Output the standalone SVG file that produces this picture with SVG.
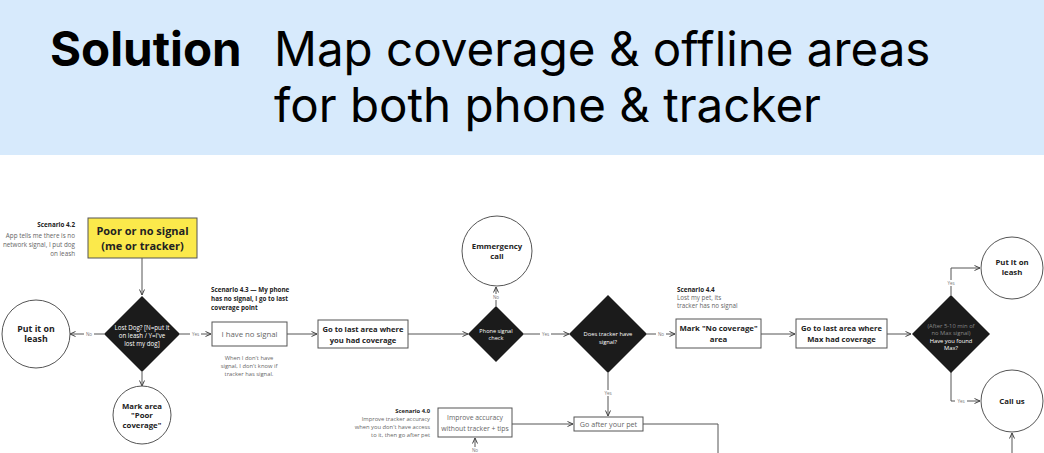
<svg xmlns="http://www.w3.org/2000/svg" width="1044" height="453" viewBox="0 0 1044 453">
<defs>
<style>
.hd{font-family:Inter,"Liberation Sans",sans-serif;fill:#000}
.t{font-family:"Open Sans","Liberation Sans",sans-serif}
.b{font-weight:700;fill:#222}
.g{fill:#666}
.w{fill:#fff}
.ln{fill:none;stroke:#555;stroke-width:1}
.box{fill:#fff;stroke:#555;stroke-width:1}
.dia{fill:#1b1b1b}
.lbl{font-family:"Open Sans","Liberation Sans",sans-serif;font-size:4.5px;fill:#777}
</style>
<marker id="ar" markerWidth="8" markerHeight="8" refX="6" refY="3" orient="auto" markerUnits="userSpaceOnUse">
<path d="M0.5,0.5 L6,3 L0.5,5.5" fill="none" stroke="#444" stroke-width="1"/>
</marker>
</defs>
<rect width="1044" height="453" fill="#fff"/>
<rect id="header" x="0" y="0" width="1044" height="155" fill="#d7eafc"/>
<text class="hd" x="50" y="66" font-size="47.5" font-weight="700">Solution</text>
<text class="hd" x="274" y="66" font-size="47.5">Map coverage &amp; offline areas</text>
<text class="hd" x="274" y="122" font-size="47.5">for both phone &amp; tracker</text>

<g id="connectors">
<line class="ln" x1="142" y1="258" x2="142" y2="295" marker-end="url(#ar)"/>
<line class="ln" x1="104" y1="334" x2="70" y2="334" marker-end="url(#ar)"/>
<line class="ln" x1="142" y1="372" x2="142" y2="386" marker-end="url(#ar)"/>
<line class="ln" x1="180" y1="334" x2="211" y2="334" marker-end="url(#ar)"/>
<line class="ln" x1="287" y1="334" x2="317" y2="334" marker-end="url(#ar)"/>
<line class="ln" x1="408" y1="334" x2="468" y2="334" marker-end="url(#ar)"/>
<line class="ln" x1="496" y1="306" x2="496" y2="287" marker-end="url(#ar)"/>
<line class="ln" x1="524" y1="334" x2="569" y2="334" marker-end="url(#ar)"/>
<line class="ln" x1="608" y1="373" x2="608" y2="416" marker-end="url(#ar)"/>
<line class="ln" x1="647" y1="334" x2="675" y2="334" marker-end="url(#ar)"/>
<line class="ln" x1="761" y1="334" x2="795" y2="334" marker-end="url(#ar)"/>
<line class="ln" x1="887" y1="334" x2="911" y2="334" marker-end="url(#ar)"/>
<polyline class="ln" points="951,295 951,268 980,268" marker-end="url(#ar)"/>
<polyline class="ln" points="951,372 951,401 980,401" marker-end="url(#ar)"/>
<line class="ln" x1="1012" y1="453" x2="1012" y2="433" marker-end="url(#ar)"/>
<line class="ln" x1="512" y1="424" x2="573" y2="424" marker-end="url(#ar)"/>
<polyline class="ln" points="643,424 718,424 718,453"/>
<line class="ln" x1="475" y1="453" x2="475" y2="438" marker-end="url(#ar)"/>
<rect x="84" y="331" width="10" height="6" fill="#fff"/><text class="lbl" x="89" y="335.5" text-anchor="middle">No</text>
<rect x="190" y="331" width="11" height="6" fill="#fff"/><text class="lbl" x="195.5" y="335.5" text-anchor="middle">Yes</text>
<rect x="491" y="294" width="10" height="6" fill="#fff"/><text class="lbl" x="496" y="298.5" text-anchor="middle">No</text>
<rect x="540" y="331" width="11" height="6" fill="#fff"/><text class="lbl" x="545.5" y="335.5" text-anchor="middle">Yes</text>
<rect x="602" y="390" width="12" height="6" fill="#fff"/><text class="lbl" x="608" y="394.5" text-anchor="middle">Yes</text>
<rect x="656" y="331" width="10" height="6" fill="#fff"/><text class="lbl" x="661" y="335.5" text-anchor="middle">No</text>
<rect x="945" y="280" width="12" height="6" fill="#fff"/><text class="lbl" x="951" y="284.5" text-anchor="middle">Yes</text>
<rect x="955" y="398" width="12" height="6" fill="#fff"/><text class="lbl" x="961" y="402.5" text-anchor="middle">Yes</text>
<rect x="470" y="447" width="10" height="6" fill="#fff"/><text class="lbl" x="475" y="451.5" text-anchor="middle">No</text>
</g>

<g id="note-4-2" class="t" font-size="6.3" text-anchor="end">
<text x="75" y="227" class="b">Scenario 4.2</text>
<text x="75" y="238" class="g">App tells me there is no</text>
<text x="75" y="247" class="g">network signal, I put dog</text>
<text x="75" y="256" class="g">on leash</text>
</g>

<g id="poor-signal">
<rect x="88" y="218" width="109" height="40" fill="#fbe94b" stroke="#555" stroke-width="1"/>
<text class="t b" x="142.5" y="235" font-size="11" text-anchor="middle">Poor or no signal</text>
<text class="t b" x="142.5" y="250" font-size="11" text-anchor="middle">(me or tracker)</text>
</g>

<g id="lost-dog">
<polygon class="dia" points="142,296 180,334 142,372 104,334"/>
<text class="t w" x="142" y="330" font-size="6.2" text-anchor="middle">Lost Dog? [N=put it</text>
<text class="t w" x="142" y="338" font-size="6.2" text-anchor="middle">on leash / Y=I've</text>
<text class="t w" x="142" y="346" font-size="6.2" text-anchor="middle">lost my dog]</text>
</g>

<g id="put-leash-1">
<circle cx="36" cy="334" r="34" fill="#fff" stroke="#555"/>
<text class="t b" x="36" y="332" font-size="8.8" text-anchor="middle">Put it on</text>
<text class="t b" x="36" y="342" font-size="8.8" text-anchor="middle">leash</text>
</g>

<g id="mark-poor">
<circle cx="142" cy="415" r="29" fill="#fff" stroke="#555"/>
<text class="t b" x="142" y="409" font-size="7.8" text-anchor="middle">Mark area</text>
<text class="t b" x="142" y="418" font-size="7.8" text-anchor="middle">"Poor</text>
<text class="t b" x="142" y="428" font-size="7.8" text-anchor="middle">coverage"</text>
</g>

<g id="note-4-3" class="t" font-size="6.3">
<text x="211" y="292" class="b">Scenario 4.3 — My phone</text>
<text x="211" y="301" class="b">has no signal, I go to last</text>
<text x="211" y="310" class="b">coverage point</text>
</g>

<g id="no-signal">
<rect class="box" x="212" y="322" width="75" height="24"/>
<text class="t g" x="249.5" y="337" font-size="7.8" text-anchor="middle">I have no signal</text>
<text class="t g" x="249" y="360" font-size="5.8" text-anchor="middle">When I don't have</text>
<text class="t g" x="249" y="368" font-size="5.8" text-anchor="middle">signal, I don't know if</text>
<text class="t g" x="249" y="376" font-size="5.8" text-anchor="middle">tracker has signal.</text>
</g>

<g id="go-last-area">
<rect class="box" x="318" y="320" width="90" height="28"/>
<text class="t b" x="363" y="331.5" font-size="7.6" text-anchor="middle">Go to last area where</text>
<text class="t b" x="363" y="342.5" font-size="7.6" text-anchor="middle">you had coverage</text>
</g>

<g id="phone-check">
<polygon class="dia" points="496,306 524,334 496,362 468,334"/>
<text class="t w" x="496" y="333" font-size="5.6" text-anchor="middle">Phone signal</text>
<text class="t w" x="496" y="340" font-size="5.6" text-anchor="middle">check</text>
</g>

<g id="emergency">
<circle cx="497" cy="251" r="35" fill="#fff" stroke="#555"/>
<text class="t b" x="497" y="249" font-size="7.8" text-anchor="middle">Emmergency</text>
<text class="t b" x="497" y="259" font-size="7.8" text-anchor="middle">call</text>
</g>

<g id="tracker-signal">
<polygon class="dia" points="608,295 647,334 608,373 569,334"/>
<text class="t w" x="608" y="336" font-size="5.8" text-anchor="middle">Does tracker have</text>
<text class="t w" x="608" y="344" font-size="5.8" text-anchor="middle">signal?</text>
</g>

<g id="note-4-4" class="t" font-size="6.3">
<text x="677" y="292" class="b">Scenario 4.4</text>
<text x="677" y="300" class="g">Lost my pet, its</text>
<text x="677" y="308" class="g">tracker has no signal</text>
</g>

<g id="mark-no-cov">
<rect class="box" x="676" y="319" width="85" height="29"/>
<text class="t b" x="718.5" y="331" font-size="7.8" text-anchor="middle">Mark "No coverage"</text>
<text class="t b" x="718.5" y="342" font-size="7.8" text-anchor="middle">area</text>
</g>

<g id="go-max-area">
<rect class="box" x="796" y="319" width="91" height="29"/>
<text class="t b" x="841.5" y="331" font-size="7.6" text-anchor="middle">Go to last area where</text>
<text class="t b" x="841.5" y="342" font-size="7.6" text-anchor="middle">Max had coverage</text>
</g>

<g id="found-max">
<polygon class="dia" points="951,295 990,334 951,373 912,334"/>
<text class="t" x="951" y="328" font-size="5.8" fill="#888" text-anchor="middle">(After 5-10 min of</text>
<text class="t" x="951" y="335" font-size="5.8" fill="#888" text-anchor="middle">no Max signal)</text>
<text class="t w" x="951" y="343" font-size="5.8" text-anchor="middle">Have you found</text>
<text class="t w" x="951" y="350" font-size="5.8" text-anchor="middle">Max?</text>
</g>

<g id="put-leash-2">
<circle cx="1012" cy="268" r="31" fill="#fff" stroke="#555"/>
<text class="t b" x="1012" y="265" font-size="7.8" text-anchor="middle">Put it on</text>
<text class="t b" x="1012" y="275" font-size="7.8" text-anchor="middle">leash</text>
</g>

<g id="call-us">
<circle cx="1012" cy="401" r="31" fill="#fff" stroke="#555"/>
<text class="t b" x="1012" y="404" font-size="7.8" text-anchor="middle">Call us</text>
</g>

<g id="note-4-0" class="t" font-size="5.8" text-anchor="end">
<text x="430" y="413" class="b">Scenario 4.0</text>
<text x="430" y="421" class="g">Improve tracker accuracy</text>
<text x="430" y="429" class="g">when you don't have access</text>
<text x="430" y="437" class="g">to it, then go after pet</text>
</g>

<g id="improve">
<rect class="box" x="438" y="408" width="74" height="29"/>
<text class="t g" x="475" y="420" font-size="6.8" text-anchor="middle">Improve accuracy</text>
<text class="t g" x="475" y="431" font-size="6.8" text-anchor="middle">without tracker + tips</text>
</g>

<g id="go-after-pet">
<rect class="box" x="574" y="417" width="69" height="14"/>
<text class="t g" x="608.5" y="427" font-size="7.2" text-anchor="middle">Go after your pet</text>
</g>
</svg>
